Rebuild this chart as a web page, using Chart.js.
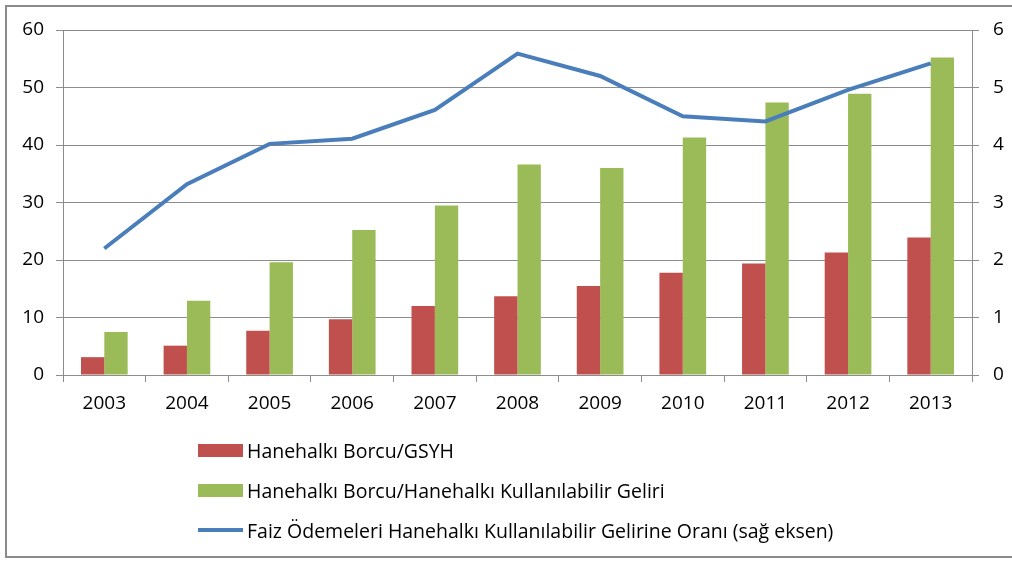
<!DOCTYPE html>
<html>
<head>
<meta charset="utf-8">
<script src="https://cdn.jsdelivr.net/npm/chart.js@4"></script>
<style>
  html, body { margin: 0; padding: 0; background: #fff; }
  #wrap { position: relative; width: 1012px; height: 562px; overflow: hidden; }
  #frame { position: absolute; left: 5px; top: 5px; width: 1020px; height: 553px;
           border: 2px solid #8a8a8a; box-sizing: border-box; }
  #chart { position: absolute; left: 0; top: 0; }
  #legend { position: absolute; left: 198px; top: 430px; font-family: "Open Sans", sans-serif;
            font-size: 19.5px; color: #000; }
  .item { display: flex; align-items: center; height: 40px; }
  .sw { width: 45px; margin-right: 4px; }
</style>
</head>
<body>
<div id="wrap">
  <div id="frame"></div>
  <canvas id="chart" width="1012" height="562"></canvas>
  <div id="legend"></div>
</div>
<script>
const years = ['2003', '2004', '2005', '2006', '2007', '2008', '2009', '2010', '2011', '2012', '2013'];
const debtToGdp = [3.1, 5.1, 7.7, 9.7, 12.0, 13.7, 15.5, 17.8, 19.4, 21.3, 23.9]; // Hanehalkı Borcu/GSYH
const debtToIncome = [7.5, 12.9, 19.6, 25.2, 29.5, 36.6, 36.0, 41.3, 47.4, 48.9, 55.2]; // borç / kullanılabilir gelir
const interestRatio = [2.2, 3.32, 4.02, 4.11, 4.61, 5.59, 5.2, 4.5, 4.41, 4.96, 5.42]; // sağ eksen

const gridColor = '#8c8c8c';
const tickFont = { family: 'Open Sans', size: 19 };

const ctx = document.getElementById('chart').getContext('2d');
const chart = new Chart(ctx, {
  type: 'bar',
  data: {
    labels: years,
    datasets: [
      {
        type: 'line',
        label: 'Faiz Ödemeleri Hanehalkı Kullanılabilir Gelirine Oranı (sağ eksen)',
        data: interestRatio,
        yAxisID: 'y1',
        borderColor: '#4a7ebb',
        backgroundColor: '#4a7ebb',
        borderWidth: 4,
        pointRadius: 0,
        tension: 0,
        order: 0
      },
      {
        label: 'Hanehalkı Borcu/GSYH',
        data: debtToGdp,
        yAxisID: 'y',
        backgroundColor: '#c0504d',
        order: 1
      },
      {
        label: 'Hanehalkı Borcu/Hanehalkı Kullanılabilir Geliri',
        data: debtToIncome,
        yAxisID: 'y',
        backgroundColor: '#9bbb59',
        order: 1
      }
    ]
  },
  options: {
    responsive: false,
    animation: false,
    layout: { padding: { top: 30, left: 0, right: 0, bottom: 0 } },
    datasets: {
      bar: { barPercentage: 1, categoryPercentage: 0.565 }
    },
    plugins: {
      legend: { display: false },
      tooltip: { enabled: false }
    },
    scales: {
      x: {
        grid: { offset: true, drawOnChartArea: false, color: gridColor, tickLength: 7 },
        border: { color: gridColor },
        ticks: { color: '#000', font: tickFont, padding: 10, maxRotation: 0 },
        afterFit: scale => { scale.height = 187; }
      },
      y: {
        position: 'left',
        min: 0,
        max: 60,
        ticks: { stepSize: 10, color: '#000', font: tickFont, padding: 12 },
        grid: { color: gridColor, tickLength: 7 },
        border: { color: gridColor },
        afterFit: scale => { scale.width = 63; }
      },
      y1: {
        position: 'right',
        min: 0,
        max: 6,
        ticks: { stepSize: 1, color: '#000', font: tickFont, padding: 14 },
        grid: { drawOnChartArea: false, color: gridColor, tickLength: 7 },
        border: { color: gridColor },
        afterFit: scale => { scale.width = 40; }
      }
    }
  }
});

// legend: bars first, then the line, one per row
const legendOrder = [1, 2, 0];
const legendEl = document.getElementById('legend');
legendOrder.forEach(i => {
  const ds = chart.data.datasets[i];
  const row = document.createElement('div');
  row.className = 'item';
  const sw = document.createElement('span');
  sw.className = 'sw';
  sw.style.background = ds.type === 'line' ? ds.borderColor : ds.backgroundColor;
  sw.style.height = ds.type === 'line' ? '4px' : '13px';
  row.appendChild(sw);
  const txt = document.createElement('span');
  txt.textContent = ds.label;
  row.appendChild(txt);
  legendEl.appendChild(row);
});
</script>
</body>
</html>
